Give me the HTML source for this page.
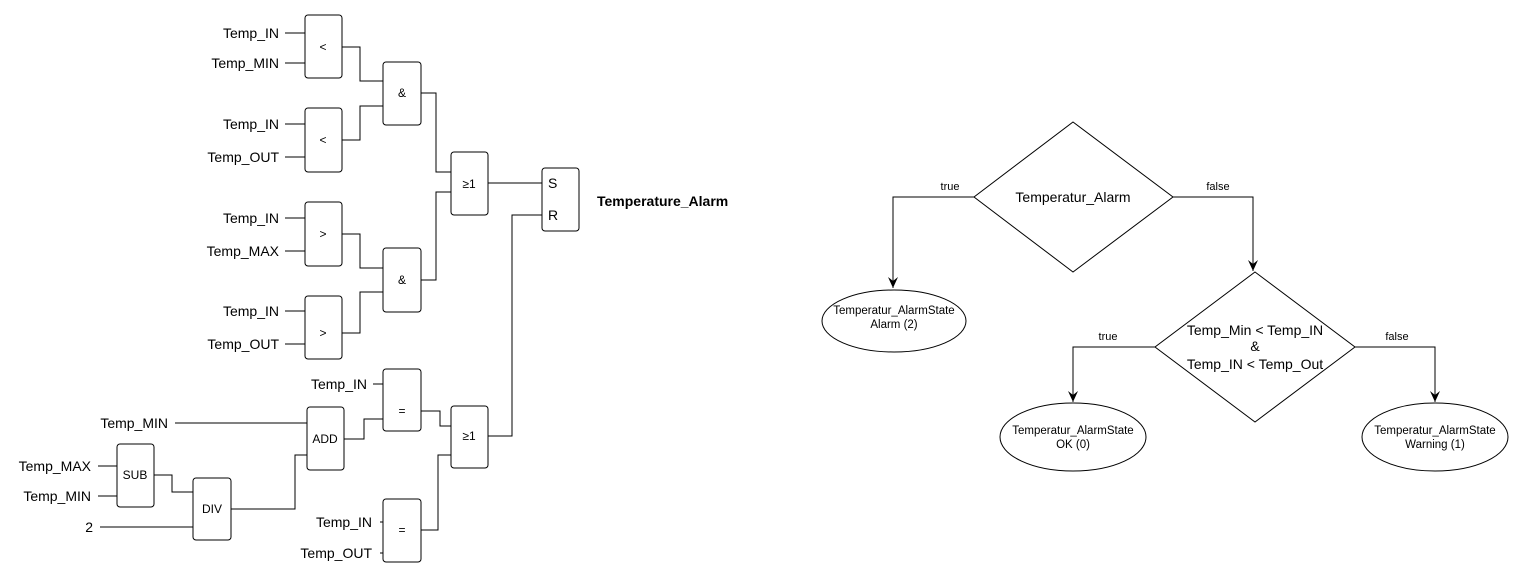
<!DOCTYPE html>
<html><head><meta charset="utf-8"><style>html,body{margin:0;padding:0;background:#fff}svg{display:block}</style></head>
<body>
<svg width="1521" height="583" viewBox="0 0 1521 583" xmlns="http://www.w3.org/2000/svg" font-family="Liberation Sans, Arial, sans-serif">
<defs><marker id="a" markerWidth="12" markerHeight="10" refX="11" refY="5" orient="auto" markerUnits="userSpaceOnUse"><path d="M0,0 L11,5 L0,10 L4,5 Z" fill="#000"/></marker></defs>
<g fill="#fff" stroke="#000" stroke-width="1">
<rect x="305" y="15" width="37" height="63" rx="3"/>
<rect x="383" y="62" width="38" height="63" rx="3"/>
<rect x="305" y="108" width="37" height="64" rx="3"/>
<rect x="451" y="152" width="37" height="63" rx="3"/>
<rect x="542" y="168" width="37" height="63" rx="3"/>
<rect x="305" y="202" width="37" height="64" rx="3"/>
<rect x="383" y="248" width="38" height="64" rx="3"/>
<rect x="305" y="296" width="37" height="63" rx="3"/>
<rect x="383" y="369" width="38" height="62" rx="3"/>
<rect x="307" y="407" width="37" height="63" rx="3"/>
<rect x="117" y="444" width="37" height="63" rx="3"/>
<rect x="193" y="478" width="38" height="62" rx="3"/>
<rect x="451" y="406" width="37" height="62" rx="3"/>
<rect x="383" y="499" width="38" height="63" rx="3"/>
</g>
<g fill="none" stroke="#000" stroke-width="1">
<path d="M285 33H305M285 63H305M285 124H305M285 157H305M285 218H305M285 251H305M285 311H305M285 344H305"/>
<path d="M342 47H360V81H383M342 140H360V106H383"/>
<path d="M421 93H436V172H451M421 280H436V192H451"/>
<path d="M342 234H360V268H383M342 333H360V292H383"/>
<path d="M488 183H542M488 436H512V215H542"/>
<path d="M373 384H383M344 439H364V419H383M175 423H307"/>
<path d="M98 466H117M98 496H117M154 475H172V492H193M100 527H193M231 509H295V455H307"/>
<path d="M421 411H440V426H451M421 530H438V455H451M380 522H383M380 553H383"/>
</g>
<g font-size="14" text-anchor="end" fill="#000">
<text x="279" y="38">Temp_IN</text><text x="279" y="68">Temp_MIN</text>
<text x="279" y="129">Temp_IN</text><text x="279" y="162">Temp_OUT</text>
<text x="279" y="223">Temp_IN</text><text x="279" y="256">Temp_MAX</text>
<text x="279" y="316">Temp_IN</text><text x="279" y="349">Temp_OUT</text>
<text x="367" y="389">Temp_IN</text><text x="168" y="428">Temp_MIN</text>
<text x="91" y="471">Temp_MAX</text><text x="91" y="501">Temp_MIN</text><text x="93" y="532">2</text>
<text x="372" y="527">Temp_IN</text><text x="372" y="558">Temp_OUT</text>
</g>
<g font-size="12" text-anchor="middle" fill="#000">
<text x="323" y="51">&lt;</text><text x="402" y="97">&amp;</text><text x="323" y="144">&lt;</text>
<text x="469" y="188">≥1</text><text x="323" y="238">&gt;</text><text x="402" y="284">&amp;</text>
<text x="323" y="337">&gt;</text><text x="402" y="415">=</text><text x="325" y="443">ADD</text>
<text x="135" y="479">SUB</text><text x="212" y="513">DIV</text><text x="469" y="440">≥1</text><text x="402" y="534">=</text>
</g>
<text x="548" y="188" font-size="14">S</text><text x="548" y="220" font-size="14">R</text>
<text x="597" y="206" font-size="14" font-weight="bold">Temperature_Alarm</text>

<g fill="none" stroke="#000" stroke-width="1">
<path d="M1073 122L1173 197L1073 272L974 197Z"/>
<path d="M1255 272L1355 347L1255 422L1155 347Z"/>
<ellipse cx="894" cy="321" rx="72" ry="31"/>
<ellipse cx="1073" cy="437" rx="73" ry="34"/>
<ellipse cx="1435" cy="437" rx="73" ry="34"/>
<path d="M974 197H893V288" marker-end="url(#a)"/>
<path d="M1173 197H1253V271" marker-end="url(#a)"/>
<path d="M1155 347H1073V402" marker-end="url(#a)"/>
<path d="M1355 347H1435V402" marker-end="url(#a)"/>
</g>
<g text-anchor="middle" fill="#000">
<text x="1073" y="202" font-size="14">Temperatur_Alarm</text>
<text x="1255" y="335" font-size="14">Temp_Min &lt; Temp_IN</text>
<text x="1255" y="351" font-size="14">&amp;</text>
<text x="1255" y="369" font-size="14">Temp_IN &lt; Temp_Out</text>
<text x="950" y="190" font-size="11">true</text><text x="1218" y="190" font-size="11">false</text>
<text x="1108" y="340" font-size="11">true</text><text x="1397" y="340" font-size="11">false</text>
<g font-size="11.5">
<text x="894" y="314">Temperatur_AlarmState</text><text x="894" y="328">Alarm (2)</text>
<text x="1073" y="434">Temperatur_AlarmState</text><text x="1073" y="448">OK (0)</text>
<text x="1435" y="434">Temperatur_AlarmState</text><text x="1435" y="448">Warning (1)</text>
</g>
</g>
</svg>
</body></html>
